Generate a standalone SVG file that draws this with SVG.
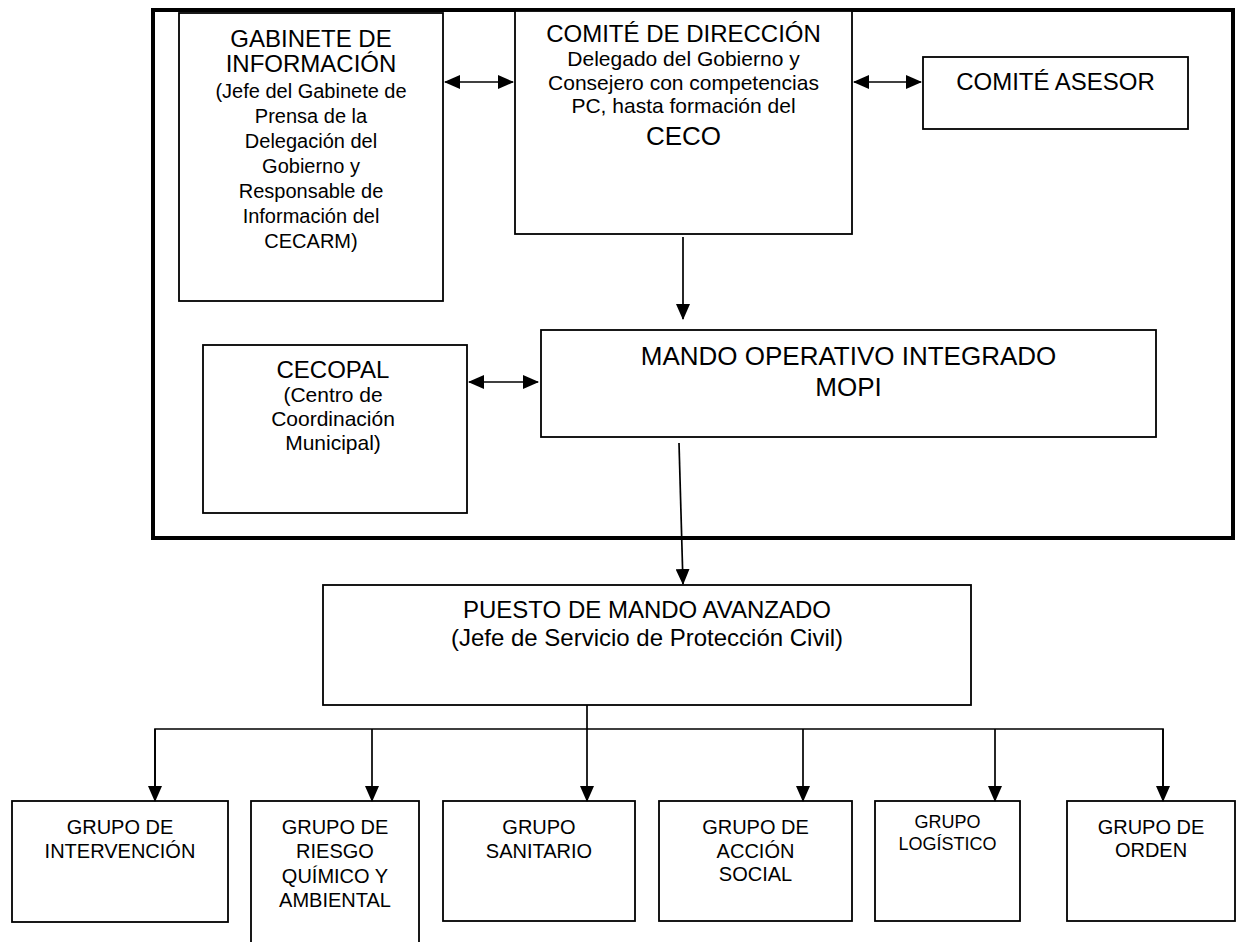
<svg xmlns="http://www.w3.org/2000/svg" width="1237" height="942" viewBox="0 0 1237 942">
<style>
.box{fill:#fff;stroke:#000;stroke-width:1.8}
.frame{fill:none;stroke:#000;stroke-width:4}
.c{fill:none;stroke:#000;stroke-width:1.7}
text{font-family:"Liberation Sans",Arial,sans-serif;fill:#000;text-anchor:middle}
.t24{font-size:24px}
.t26{font-size:26px}
.t21{font-size:21px}
.t20{font-size:20px}
.t18{font-size:18px}
</style>
<defs>
<marker id="ah" markerWidth="16" markerHeight="14" refX="15" refY="7" orient="auto" markerUnits="userSpaceOnUse">
<path d="M0,0 L16,7 L0,14 z" fill="#000"/>
</marker>
<marker id="as" markerWidth="16" markerHeight="14" refX="1" refY="7" orient="auto" markerUnits="userSpaceOnUse">
<path d="M16,0 L0,7 L16,14 z" fill="#000"/>
</marker>
</defs>
<rect width="1237" height="942" fill="#fff"/>
<rect id="frame" class="frame" x="153" y="10" width="1080" height="528"/>

<g id="gabinete">
<rect class="box" x="179" y="13" width="264" height="288"/>
<text class="t24" x="311" y="47">GABINETE DE</text>
<text class="t24" x="311" y="72">INFORMACIÓN</text>
<text class="t20" x="311" y="98">(Jefe del Gabinete de</text>
<text class="t20" x="311" y="123">Prensa de la</text>
<text class="t20" x="311" y="148">Delegación del</text>
<text class="t20" x="311" y="173">Gobierno y</text>
<text class="t20" x="311" y="198">Responsable de</text>
<text class="t20" x="311" y="223">Información del</text>
<text class="t20" x="311" y="248">CECARM)</text>
</g>

<g id="comite-direccion">
<rect class="box" x="515" y="11" width="337" height="223"/>
<text class="t24" x="683.5" y="42">COMITÉ DE DIRECCIÓN</text>
<text class="t21" x="683.5" y="66">Delegado del Gobierno y</text>
<text class="t21" x="683.5" y="90">Consejero con competencias</text>
<text class="t21" x="683.5" y="113">PC, hasta formación del</text>
<text class="t26" x="683.5" y="145">CECO</text>
</g>

<g id="comite-asesor">
<rect class="box" x="923" y="57" width="265" height="72"/>
<text class="t24" x="1055.5" y="90">COMITÉ ASESOR</text>
</g>

<g id="cecopal">
<rect class="box" x="203" y="345" width="264" height="168"/>
<text class="t24" x="333" y="378">CECOPAL</text>
<text class="t21" x="333" y="402">(Centro de</text>
<text class="t21" x="333" y="426">Coordinación</text>
<text class="t21" x="333" y="450">Municipal)</text>
</g>

<g id="mopi">
<rect class="box" x="541" y="330" width="615" height="107"/>
<text class="t26" x="848.5" y="365">MANDO OPERATIVO INTEGRADO</text>
<text class="t26" x="848.5" y="396">MOPI</text>
</g>

<g id="puesto">
<rect class="box" x="323" y="585" width="648" height="120"/>
<text class="t24" x="647" y="618">PUESTO DE MANDO AVANZADO</text>
<text class="t24" x="647" y="646">(Jefe de Servicio de Protección Civil)</text>
</g>

<g id="g-intervencion">
<rect class="box" x="12" y="801" width="216" height="121"/>
<text class="t20" x="120" y="834">GRUPO DE</text>
<text class="t20" x="120" y="858">INTERVENCIÓN</text>
</g>

<g id="g-riesgo">
<rect class="box" x="251" y="801" width="168" height="160"/>
<text class="t20" x="335" y="834">GRUPO DE</text>
<text class="t20" x="335" y="858">RIESGO</text>
<text class="t20" x="335" y="883">QUÍMICO Y</text>
<text class="t20" x="335" y="907">AMBIENTAL</text>
</g>

<g id="g-sanitario">
<rect class="box" x="443" y="801" width="192" height="120"/>
<text class="t20" x="539" y="834">GRUPO</text>
<text class="t20" x="539" y="858">SANITARIO</text>
</g>

<g id="g-accion">
<rect class="box" x="659" y="801" width="193" height="120"/>
<text class="t20" x="755.5" y="834">GRUPO DE</text>
<text class="t20" x="755.5" y="858">ACCIÓN</text>
<text class="t20" x="755.5" y="881">SOCIAL</text>
</g>

<g id="g-logistico">
<rect class="box" x="875" y="801" width="145" height="120"/>
<text class="t18" x="947.5" y="828">GRUPO</text>
<text class="t18" x="947.5" y="850">LOGÍSTICO</text>
</g>

<g id="g-orden">
<rect class="box" x="1067" y="801" width="168" height="120"/>
<text class="t20" x="1151" y="834">GRUPO DE</text>
<text class="t20" x="1151" y="857">ORDEN</text>
</g>

<g id="connectors">
<line class="c" x1="445" y1="82" x2="513" y2="82" marker-start="url(#as)" marker-end="url(#ah)"/>
<line class="c" x1="854" y1="82" x2="921" y2="82" marker-start="url(#as)" marker-end="url(#ah)"/>
<line class="c" x1="683" y1="237" x2="683" y2="319" marker-end="url(#ah)"/>
<line class="c" x1="469" y1="382" x2="538" y2="382" marker-start="url(#as)" marker-end="url(#ah)"/>
<line class="c" x1="679" y1="443" x2="683" y2="584" marker-end="url(#ah)"/>
<line class="c" x1="587" y1="705" x2="587" y2="801" marker-end="url(#ah)"/>
<polyline class="c" points="155,801 155,729 1163,729 1163,801"/>
<line class="c" x1="155" y1="729" x2="155" y2="801" marker-end="url(#ah)"/>
<line class="c" x1="1163" y1="729" x2="1163" y2="801" marker-end="url(#ah)"/>
<line class="c" x1="372" y1="729" x2="372" y2="801" marker-end="url(#ah)"/>
<line class="c" x1="803" y1="729" x2="803" y2="801" marker-end="url(#ah)"/>
<line class="c" x1="995" y1="729" x2="995" y2="801" marker-end="url(#ah)"/>
</g>
</svg>
